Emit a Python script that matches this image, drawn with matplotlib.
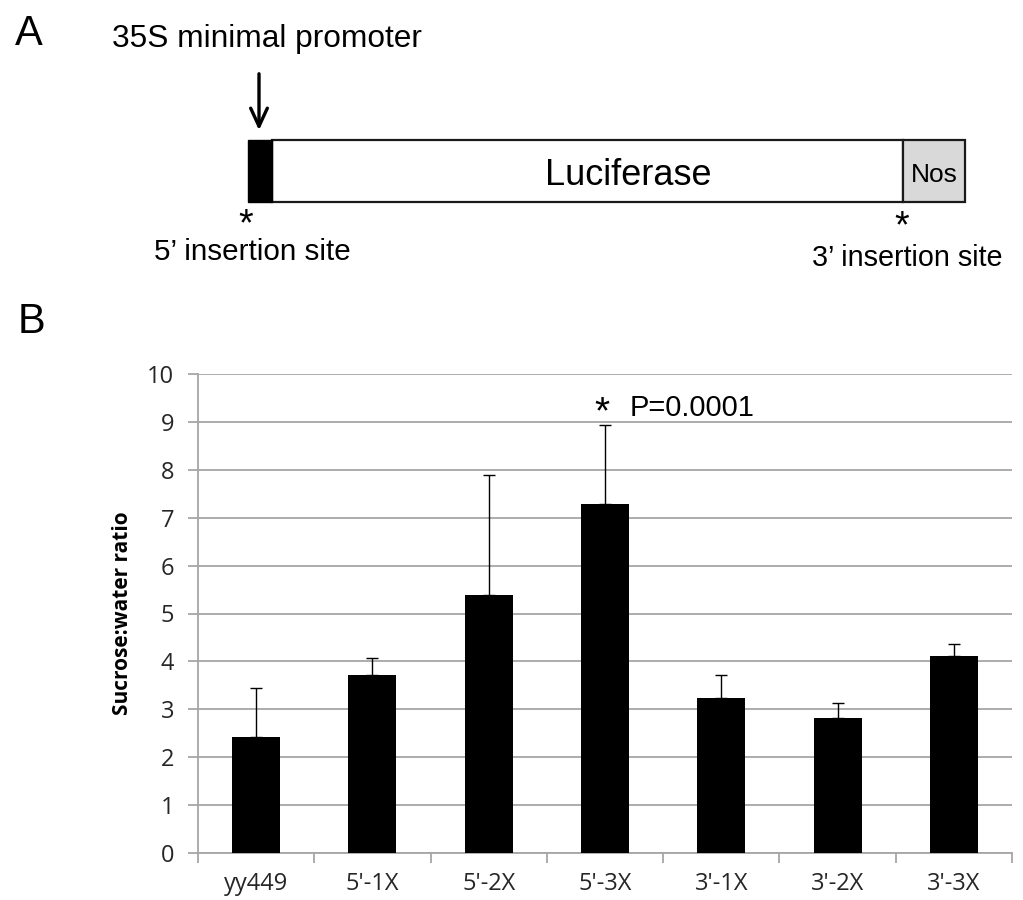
import matplotlib
matplotlib.use("Agg")
import matplotlib.pyplot as plt
from matplotlib.patches import Rectangle
from matplotlib import font_manager as fm
import numpy as np

# ---- data ----
categories = ["yy449", "5'-1X", "5'-2X", "5'-3X", "3'-1X", "3'-2X", "3'-3X"]
means = [2.43, 3.72, 5.38, 7.28, 3.24, 2.81, 4.12]
upper_err = [1.02, 0.35, 2.52, 1.65, 0.48, 0.32, 0.24]
yticks = [0, 1, 2, 3, 4, 5, 6, 7, 8, 9, 10]

names = {f.name for f in fm.fontManager.ttflist}
cal = "Open Sans" if "Open Sans" in names else "DejaVu Sans"
sans = "Liberation Sans"

W, H = 1023, 900
fig = plt.figure(figsize=(W / 100, H / 100), dpi=100)

# ---- panel A (pixel-coordinate overlay) ----
ov = fig.add_axes([0, 0, 1, 1])
ov.set_xlim(0, W)
ov.set_ylim(H, 0)
ov.axis("off")

ov.text(15, 45, "A", fontsize=30, family=sans, va="baseline", ha="left")
ov.text(112, 47, "35S minimal promoter", fontsize=22.8, family=sans, va="baseline", ha="left")
ov.annotate("", xy=(259, 133), xytext=(259, 71),
            arrowprops=dict(arrowstyle="->,head_length=1.3,head_width=0.6", lw=2.4, color="black"))
ov.add_patch(Rectangle((272, 140), 631, 62, facecolor="white", edgecolor="#1a1a1a", lw=1.6))
ov.add_patch(Rectangle((903, 140), 62, 62, facecolor="#d9d9d9", edgecolor="#1a1a1a", lw=1.6))
ov.add_patch(Rectangle((248, 140), 24, 62, facecolor="black", edgecolor="black", lw=1.0))
ov.text(628, 185, "Luciferase", fontsize=26, family=sans, va="baseline", ha="center")
ov.text(934, 182, "Nos", fontsize=19, family=sans, va="baseline", ha="center")
ov.text(246, 235, "*", fontsize=27, family=sans, va="baseline", ha="center")
ov.text(902, 237, "*", fontsize=27, family=sans, va="baseline", ha="center")
ov.text(252, 260, "5\u2019 insertion site", fontsize=21.3, family=sans, va="baseline", ha="center")
ov.text(907, 266, "3\u2019 insertion site", fontsize=20.7, family=sans, va="baseline", ha="center")
ov.text(18, 333, "B", fontsize=30, family=sans, va="baseline", ha="left")

# ---- panel B bar chart ----
ax = fig.add_axes([198 / W, 1 - 853 / H, 814 / W, 479 / H])
x = np.arange(len(categories))
ax.bar(x, means, width=0.413, color="black", zorder=3)
ax.errorbar(x, means, yerr=[np.zeros(len(means)), upper_err], fmt="none",
            ecolor="black", elinewidth=1.0, capsize=4.5, capthick=1.0, zorder=4)
ax.set_xlim(-0.5, len(categories) - 0.5)
ax.set_ylim(0, 10)
ax.set_yticks(yticks)
ax.set_yticklabels([str(v) for v in yticks], family=cal, fontsize=17, color="#262626")
ax.yaxis.grid(True, color="#a6a6a6", lw=1.3, zorder=0)
ax.set_axisbelow(True)
ax.set_xticks(x)
ax.set_xticklabels(categories, family=cal, fontsize=17, color="#262626")
ax.tick_params(axis="x", length=0, pad=14)
ax.set_xticks(np.arange(-0.5, len(categories)), minor=True)
ax.tick_params(axis="x", which="minor", length=7, color="#a6a6a6", width=1.3)
ax.tick_params(axis="y", length=7, color="#a6a6a6", width=1.3, pad=10)
for s in ["top", "right"]:
    ax.spines[s].set_visible(False)
for s in ["left", "bottom"]:
    ax.spines[s].set_color("#a6a6a6")
    ax.spines[s].set_linewidth(1.3)
ax.set_ylabel("Sucrose:water ratio", family=cal, fontsize=15, fontweight="bold", labelpad=10)

ax.text(2.97, 9.18, "*", fontsize=28, family=sans, ha="center", va="center")
ax.text(3.21, 9.3, "P=0.0001", fontsize=21, family=sans, ha="left", va="center")

fig.savefig("out.png", dpi=100)
